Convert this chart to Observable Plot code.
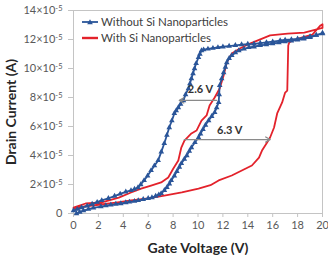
<!DOCTYPE html>
<html>
<head>
<meta charset="utf-8">
<script src="https://cdn.jsdelivr.net/npm/d3@7"></script>
<script src="https://cdn.jsdelivr.net/npm/@observablehq/plot@0.6"></script>
<style>
  body { margin: 0; background: #fff; }
  #chart { position: relative; width: 328px; height: 255px; font-family: Lato, "Open Sans", sans-serif; }
  .legend { position: absolute; left: 82px; top: 14px; font-size: 11.5px; color: #404040; line-height: 16px; }
  .legend .row { display: flex; align-items: center; white-space: nowrap; }
  .legend svg { margin-right: 2px; }
</style>
</head>
<body>
<div id="chart"></div>
<script>
// Transfer curves, drain current in units of 1e-5 A vs gate voltage (V)
// Without Si nanoparticles: forward sweep then reverse sweep
const withoutV = [0.24, 0.5, 0.8, 1.2, 1.6, 2.2, 2.6, 3.0, 3.4, 3.8, 4.2, 4.5, 4.9, 5.2, 5.6, 6.0, 6.3, 6.6, 6.85, 7.04, 7.3, 7.5, 7.7, 7.85, 8.1, 8.3, 8.5, 8.66, 8.9, 9.1, 9.3, 9.47, 9.75, 10.04, 10.2, 10.4, 10.6, 10.85, 11.1, 11.34, 11.5, 11.66, 11.7, 11.74, 11.9, 12.06, 12.2, 12.31, 12.5, 12.71, 13.0, 13.28, 13.7, 14.09, 14.5, 15.0, 15.5, 16.0, 16.5, 17.0, 17.5, 18.0, 18.5, 19.0, 19.5, 20.0,
                  20.0, 19.5, 19.0, 18.5, 18.0, 17.5, 17.0, 16.6, 16.0, 15.5, 15.0, 14.5, 14.0, 13.5, 13.0, 12.5, 12.0, 11.6, 11.2, 10.8, 10.45, 10.28, 10.15, 10.04, 9.85, 9.72, 9.6, 9.47, 9.35, 9.23, 9.0, 8.83, 8.6, 8.42, 8.25, 8.1, 7.9, 7.69, 7.5, 7.29, 7.05, 6.8, 6.5, 6.23, 5.95, 5.67, 5.4, 5.18, 4.9, 4.62, 4.2, 3.75, 3.3, 2.8, 2.27, 1.9, 1.5, 1.1, 0.65, 0.3, 0.0];
const withoutI = [0.0, 0.1, 0.2, 0.3, 0.38, 0.48, 0.55, 0.6, 0.65, 0.69, 0.75, 0.8, 0.85, 0.9, 0.98, 1.05, 1.1, 1.2, 1.3, 1.38, 1.6, 1.8, 2.05, 2.28, 2.6, 2.9, 3.2, 3.45, 3.75, 4.0, 4.3, 4.55, 4.9, 5.24, 5.5, 5.8, 6.1, 6.41, 6.7, 6.97, 7.3, 7.66, 8.2, 8.83, 9.3, 9.72, 10.1, 10.41, 10.7, 10.9, 11.1, 11.24, 11.35, 11.45, 11.5, 11.6, 11.65, 11.72, 11.78, 11.85, 11.9, 11.98, 12.05, 12.15, 12.3, 12.45,
                  12.4, 12.3, 12.2, 12.12, 12.05, 12.0, 11.97, 11.93, 11.85, 11.8, 11.75, 11.7, 11.68, 11.65, 11.6, 11.55, 11.5, 11.45, 11.4, 11.35, 11.3, 11.24, 11.0, 10.76, 10.35, 10.0, 9.65, 9.31, 8.95, 8.62, 8.2, 7.79, 7.55, 7.31, 7.1, 6.9, 6.4, 5.93, 5.4, 4.83, 4.25, 3.66, 3.3, 2.97, 2.6, 2.28, 2.0, 1.79, 1.68, 1.59, 1.5, 1.35, 1.2, 1.05, 0.9, 0.78, 0.65, 0.52, 0.41, 0.3, 0.2];

// With Si nanoparticles: forward sweep then reverse sweep
const withV = [0.0, 1.0, 2.19, 3.4, 4.62, 6.0, 7.29, 8.7, 10.04, 11.0, 11.66, 12.71, 13.52, 14.33, 14.9, 15.14, 15.55, 15.79, 16.11, 16.36, 16.76, 17.0, 17.17, 17.25, 17.33, 17.57, 18.38, 19.19, 19.84, 20.0,
               20.0, 19.84, 18.54, 17.2, 15.79, 14.17, 13.36, 12.71, 12.31, 12.06, 11.74, 11.34, 10.93, 10.69, 10.28, 9.88, 9.47, 8.91, 8.66, 8.42, 8.02, 7.61, 7.04, 6.23, 5.43, 4.62, 3.64, 2.27, 0.97, 0.0];
const withI = [0.35, 0.5, 0.62, 0.75, 0.9, 1.05, 1.24, 1.45, 1.72, 1.95, 2.28, 2.62, 2.97, 3.31, 3.86, 4.34, 4.9, 5.24, 5.93, 6.9, 7.66, 8.34, 8.48, 11.59, 11.79, 11.93, 12.14, 12.34, 12.97, 13.05,
               12.8, 12.76, 12.48, 12.4, 12.28, 11.72, 11.38, 11.03, 10.41, 9.52, 8.62, 8.0, 7.45, 6.76, 6.41, 5.72, 5.52, 5.03, 4.55, 3.66, 3.1, 2.48, 2.14, 1.93, 1.72, 1.45, 1.1, 0.76, 0.69, 0.41];

const seriesNames = ["Without Si Nanoparticles", "With Si Nanoparticles"];
const seriesColors = ["#2a5599", "#e3222b"];

const xTicks = [0, 2, 4, 6, 8, 10, 12, 14, 16, 18, 20];
const yTicks = [0, 2, 4, 6, 8, 10, 12, 14];

// Threshold-shift annotations: arrow from (x1, y) to (x2, y), label at (lx, ly)
const shiftLabels = ["2.6 V", "6.3 V"];
const shiftX1 = [11.5, 8.9];
const shiftX2 = [8.5, 15.8];
const shiftY = [7.8, 5.1];
const shiftLabelX = [10.2, 12.55];
const shiftLabelY = [8.55, 5.75];

const without = withoutV.map((v, i) => ({V: v, I: withoutI[i]}));
const withNp = withV.map((v, i) => ({V: v, I: withI[i]}));
const shifts = shiftLabels.map((t, i) => ({t, x1: shiftX1[i], x2: shiftX2[i], y: shiftY[i], lx: shiftLabelX[i], ly: shiftLabelY[i]}));

const svg = Plot.plot({
  width: 328,
  height: 255,
  marginLeft: 73,
  marginRight: 6,
  marginTop: 10,
  marginBottom: 42,
  style: {fontFamily: "Lato, 'Open Sans', sans-serif", fontSize: "11px", color: "#595959", background: "#fff"},
  x: {domain: [0, 20]},
  y: {domain: [0, 14]},
  marks: [
    Plot.frame({stroke: "#c4c4c4"}),
    Plot.axisX({ticks: xTicks, tickSize: 4, tickPadding: 4, stroke: "#c4c4c4", label: "Gate Voltage (V)", labelAnchor: "center", labelOffset: 39, labelArrow: "none"}),
    Plot.axisY({ticks: yTicks, tickSize: 5, tickPadding: 6, stroke: "#c4c4c4", tickFormat: d => d === 0 ? "0" : `${d}×10`, label: "Drain Current (A)", labelAnchor: "center", labelOffset: 67, labelArrow: "none"}),
    Plot.line(withNp, {x: "V", y: "I", stroke: seriesColors[1], strokeWidth: 1.8}),
    Plot.line(without, {x: "V", y: "I", stroke: seriesColors[0], strokeWidth: 1.8}),
    Plot.dot(without, {x: "V", y: "I", symbol: "triangle", r: 2.1, fill: seriesColors[0], stroke: "none"}),
    Plot.arrow(shifts, {x1: "x1", y1: "y", x2: "x2", y2: "y", stroke: "#8a8a8a", strokeWidth: 1.3, headLength: 6}),
    Plot.text(shifts, {x: "lx", y: "ly", text: "t", fontWeight: "bold", fontSize: 11, fill: "#333"})
  ]
});

// superscript exponent on the y tick labels
d3.select(svg).selectAll('g[aria-label="y-axis tick label"] text').each(function() {
  const t = d3.select(this);
  if (t.text() !== "0") {
    t.append("tspan").attr("dy", "-0.45em").attr("font-size", "7.5px").text("-5");
  }
});
// bold axis titles
d3.select(svg).selectAll('g[aria-label="x-axis label"] text, g[aria-label="y-axis label"] text')
  .attr("font-weight", "bold").attr("font-size", "14px").attr("fill", "#262626");

const chart = document.getElementById("chart");
chart.appendChild(svg);

// legend
const legend = document.createElement("div");
legend.className = "legend";
seriesNames.forEach((name, i) => {
  const row = document.createElement("div");
  row.className = "row";
  const marker = i === 0 ? `<path d="M8,1.2 L10.8,6.2 L5.2,6.2 Z" fill="${seriesColors[i]}"/>` : "";
  row.innerHTML = `<svg width="17" height="8"><line x1="0" x2="16" y1="4" y2="4" stroke="${seriesColors[i]}" stroke-width="${i === 0 ? 1.8 : 2.4}"/>${marker}</svg><span>${name}</span>`;
  legend.appendChild(row);
});
chart.appendChild(legend);
</script>
</body>
</html>
